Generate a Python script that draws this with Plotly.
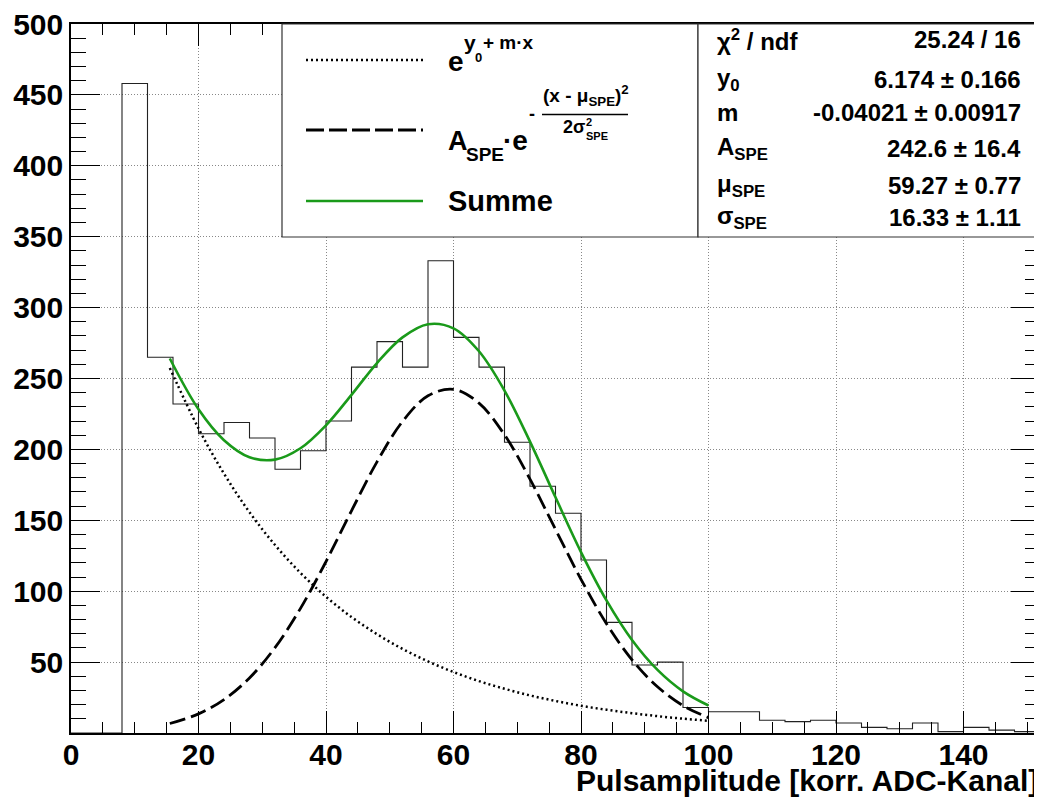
import plotly.graph_objects as go

# ---------------- data ----------------
bin_width = 4
hist_counts = [0, 0, 458, 265, 232, 211, 219, 208, 186, 199, 220, 258, 276, 258,
               333, 279, 258, 205, 174, 155, 122, 78, 48, 50, 18,
               15, 15, 9, 8, 9, 7, 4, 3, 7, 1, 4, 2, 1]

curve_x = [15.5, 20, 24, 28, 32, 36, 40, 44, 48, 52, 56, 60, 64, 68, 72, 76, 80, 84, 88, 92, 96, 100]
expo_y = [257.4, 214.8, 182.9, 155.7, 132.6, 112.9, 96.1, 81.8, 69.7, 59.3, 50.5, 43.0,
          36.6, 31.2, 26.5, 22.6, 19.2, 16.4, 14.0, 11.9, 10.1, 8.6]
gauss_y = [6.7, 13.5, 23.6, 38.8, 60.2, 87.9, 120.9, 156.7, 191.2, 219.7, 237.8, 242.4,
           232.6, 210.3, 179.0, 143.6, 108.4, 77.1, 51.6, 32.6, 19.3, 10.8]
sum_y = [264.1, 228.3, 206.5, 194.5, 192.8, 200.8, 217.0, 238.5, 260.9, 279.0, 288.3, 285.4,
         269.2, 241.5, 205.5, 166.2, 127.6, 93.5, 65.6, 44.5, 29.4, 19.4]

x_tickvals = [0, 20, 40, 60, 80, 100, 120, 140]
y_tickvals = [50, 100, 150, 200, 250, 300, 350, 400, 450, 500]

stat_labels = ["χ<sup>2</sup> / ndf", "y<sub>0</sub>", "m", "A<sub>SPE</sub>",
               "μ<sub>SPE</sub>", "σ<sub>SPE</sub>"]
stat_values = ["25.24 / 16", "6.174 ± 0.166", "-0.04021 ± 0.00917", "242.6 ± 16.4",
               "59.27 ± 0.77", "16.33 ± 1.11"]

x_title = "Pulsamplitude [korr. ADC-Kanal]"

# ---------------- layout geometry ----------------
# the page body has an 8px margin, so the figure starts at (8, 8) in the window
OFF = 8
W, H = 1042 - OFF, 803 - OFF
PLOT_L, PLOT_R, PLOT_T, PLOT_B = 71, 1040, 24, 733      # window pixels
PW, PH = PLOT_R - PLOT_L, PLOT_B - PLOT_T
ML, MT = PLOT_L - OFF, PLOT_T - OFF
MR, MB = W - ML - PW, H - MT - PH
FONT = "Liberation Sans"


def pxx(x):
    return (x - PLOT_L) / PW


def pxy(y):
    return (PLOT_B - y) / PH


def ann(text, x, y, size, xanchor="left", yanchor="middle", weight="bold"):
    return dict(text=text, x=pxx(x), y=pxy(y), xref="paper", yref="paper",
                showarrow=False, xanchor=xanchor, yanchor=yanchor, borderpad=0,
                font=dict(family=FONT, size=size, color="black", weight=weight))


# histogram outline
edges = [i * bin_width for i in range(len(hist_counts) + 1)]
hist_y = hist_counts + [hist_counts[-1]]

fig = go.Figure()
fig.add_trace(go.Scatter(x=edges, y=hist_y, mode="lines", line_shape="hv",
                         line=dict(color="#222222", width=1.1), showlegend=False))
fig.add_trace(go.Scatter(x=curve_x, y=expo_y, mode="lines", line_shape="spline",
                         line=dict(color="black", width=2.5, dash="2px,3px"), showlegend=False))
fig.add_trace(go.Scatter(x=curve_x, y=gauss_y, mode="lines", line_shape="spline",
                         line=dict(color="black", width=2.8, dash="16px,6px"), showlegend=False))
fig.add_trace(go.Scatter(x=curve_x, y=sum_y, mode="lines", line_shape="spline",
                         line=dict(color="#1a9a1a", width=2.6), showlegend=False))

tickfont = dict(family=FONT, size=30, color="black", weight="bold")
fig.update_xaxes(range=[0, 152], tickmode="array", tickvals=x_tickvals,
                 ticks="inside", ticklen=22, tickwidth=1, tickcolor="black",
                 minor=dict(tickmode="linear", tick0=0, dtick=5, ticks="inside", ticklen=11,
                            tickcolor="black", tickwidth=1, showgrid=False),
                 showline=True, linecolor="black", linewidth=1.5, mirror="ticks",
                 showgrid=True, gridcolor="#888888", griddash="1px,2px", gridwidth=1,
                 zeroline=False, tickfont=tickfont, automargin=False, ticklabelstandoff=-6,
                 ticklabeloverflow="allow")
fig.update_yaxes(range=[0, 500], tickmode="array", tickvals=y_tickvals,
                 ticks="inside", ticklen=29, tickwidth=1, tickcolor="black",
                 minor=dict(tickmode="linear", tick0=0, dtick=10, ticks="inside", ticklen=15,
                            tickcolor="black", tickwidth=1, showgrid=False),
                 showline=True, linecolor="black", linewidth=1.5, mirror="ticks",
                 showgrid=True, gridcolor="#888888", griddash="1px,2px", gridwidth=1,
                 zeroline=False, tickfont=tickfont, automargin=False, ticklabelstandoff=0,
                 ticklabeloverflow="allow")

shapes = []
# legend box & stats box
shapes.append(dict(type="rect", xref="paper", yref="paper", x0=pxx(282), x1=pxx(698),
                   y0=pxy(237), y1=pxy(24), fillcolor="white", line=dict(color="#333", width=1.2),
                   layer="above"))
shapes.append(dict(type="rect", xref="paper", yref="paper", x0=pxx(698), x1=pxx(1040),
                   y0=pxy(237), y1=pxy(24), fillcolor="white", line=dict(color="#333", width=1.2),
                   layer="above"))
# legend samples
shapes.append(dict(type="line", xref="paper", yref="paper", x0=pxx(306), x1=pxx(423),
                   y0=pxy(60), y1=pxy(60), line=dict(color="black", width=2.5, dash="2px,3px"),
                   layer="above"))
shapes.append(dict(type="line", xref="paper", yref="paper", x0=pxx(306), x1=pxx(423),
                   y0=pxy(130), y1=pxy(130), line=dict(color="black", width=2.8, dash="18px,5px"),
                   layer="above"))
shapes.append(dict(type="line", xref="paper", yref="paper", x0=pxx(306), x1=pxx(423),
                   y0=pxy(201), y1=pxy(201), line=dict(color="#1a9a1a", width=2.6),
                   layer="above"))
# fraction bar
shapes.append(dict(type="line", xref="paper", yref="paper", x0=pxx(542), x1=pxx(628),
                   y0=pxy(114.5), y1=pxy(114.5), line=dict(color="black", width=1.5),
                   layer="above"))

annotations = []
# row 1
annotations.append(ann("e", 447, 61, 28))
annotations.append(ann("y", 463, 43, 21))
annotations.append(ann("0", 474, 57, 13))
annotations.append(ann("+ m·x", 482, 43, 19))
# row 2
annotations.append(ann("A", 447, 141, 27))
annotations.append(ann("SPE", 465, 154, 19))
annotations.append(ann("·e", 502, 141, 28))
annotations.append(ann("-", 528, 114, 18))
annotations.append(ann("(x - μ<sub>SPE</sub>)<sup>2</sup>", 542, 96, 19))
annotations.append(ann("2σ", 562, 127, 18))
annotations.append(ann("2", 585, 122, 11))
annotations.append(ann("SPE", 585, 136, 11))
# row 3
annotations.append(ann("Summe", 447, 201, 29))

# stats
row_centers = [40, 79, 112, 149, 185, 217]
for lab, val, yc in zip(stat_labels, stat_values, row_centers):
    annotations.append(ann(lab, 716, yc, 24))
    annotations.append(ann(val, 1022, yc, 24, xanchor="right"))

# axis title
annotations.append(ann(x_title, 1039, 781, 30, xanchor="right"))

fig.update_layout(width=W, height=H, autosize=False,
                  margin=dict(l=ML, r=MR, t=MT, b=MB, pad=0),
                  paper_bgcolor="white", plot_bgcolor="white",
                  showlegend=False, shapes=shapes, annotations=annotations,
                  font=dict(family=FONT, color="black"))

fig.write_html("out.html")
